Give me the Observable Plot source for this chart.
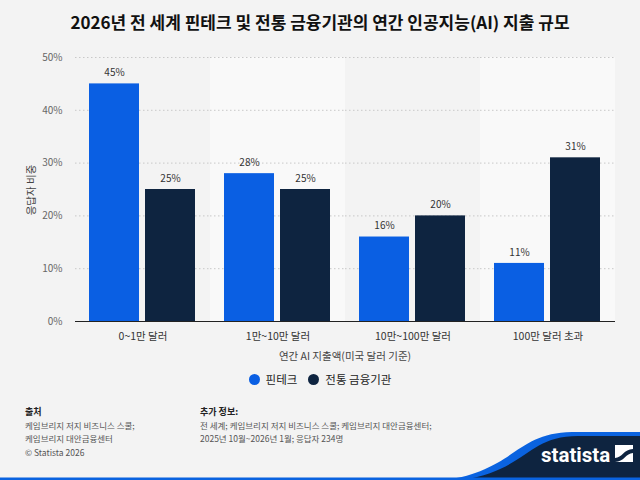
<!DOCTYPE html>
<html>
<head>
<meta charset="utf-8">
<script src="https://cdn.jsdelivr.net/npm/d3@7"></script>
<script src="https://cdn.jsdelivr.net/npm/@observablehq/plot@0.6"></script>
<style>
  html, body { margin: 0; padding: 0; }
  body { width: 640px; height: 480px; background: #f3f3f3; position: relative; overflow: hidden;
         font-family: "Noto Sans CJK KR", "Noto Sans", sans-serif; color: #222; }
  #title { position: absolute; top: 9px; left: 0; width: 640px; text-align: center; font-size: 17px; font-weight: 700; color: #111; }
  #chart { position: absolute; top: 45px; left: 0; }
  #ylabel { position: absolute; left: 30px; top: 190px; transform: translate(-50%, -50%) rotate(-90deg); font-size: 10.5px; color: #444; white-space: nowrap; }
  #xlabel { position: absolute; top: 348px; left: 75px; width: 540px; text-align: center; font-size: 10.5px; color: #444; }
  #legend { position: absolute; top: 371px; left: 0; width: 640px; display: flex; justify-content: center; gap: 11px; font-size: 11.5px; color: #222; }
  #legend span.item { display: flex; align-items: center; gap: 6px; }
  #legend span.dot { width: 11px; height: 11px; border-radius: 50%; display: inline-block; }
  .foot { position: absolute; top: 405px; font-size: 8.5px; color: #555; line-height: 13.5px; }
  .foot b { color: #222; font-weight: 700; font-size: 9px; }
  #logo { position: absolute; left: 0; top: 420px; }
</style>
</head>
<body>
<div id="title">2026년 전 세계 핀테크 및 전통 금융기관의 연간 인공지능(AI) 지출 규모</div>
<div id="chart"></div>
<div id="ylabel">응답자 비중</div>
<div id="xlabel">연간 AI 지출액(미국 달러 기준)</div>
<div id="legend"></div>
<div class="foot" style="left:25px"><b>출처</b><br>케임브리지 저지 비즈니스 스쿨;<br>케임브리지 대안금융센터<br>© Statista 2026</div>
<div class="foot" style="left:200px"><b>추가 정보:</b><br>전 세계; 케임브리지 저지 비즈니스 스쿨; 케임브리지 대안금융센터;<br>2025년 10월~2026년 1월; 응답자 234명</div>
<svg id="logo" width="640" height="60" viewBox="0 420 640 60">
  <path d="M445,480 C515,470 515,433 572,432 L640,432 L640,480 Z" fill="#0a63e0"/>
  <path d="M462,480 C527,470 527,436 578,436 L640,436 L640,480 Z" fill="#0e2440"/>
  <rect x="0" y="477.5" width="640" height="2.5" fill="#0a63e0"/>
  <text x="541" y="462" fill="#fff" font-family="Roboto, 'DejaVu Sans', sans-serif" font-weight="700" font-size="20.5">statista</text>
  <rect x="615" y="445" width="18" height="17" fill="#fff"/>
  <path d="M615,458 C622,458 624,449 633,449 L633,453 C626,453 624,462 615,462 Z" fill="#0e2440"/>
</svg>
<script>
const categories = ["0~1만 달러", "1만~10만 달러", "10만~100만 달러", "100만 달러 초과"];
const series = ["핀테크", "전통 금융기관"];
const fintech = [45, 28, 16, 11];
const traditional = [25, 25, 20, 31];
const yTicks = [0, 10, 20, 30, 40, 50];
const shadedCategories = ["1만~10만 달러", "100만 달러 초과"];
const colors = ["#0a5fe3", "#0e2440"];

const data = [];
categories.forEach((c, i) => {
  data.push({category: c, series: series[0], value: fintech[i]});
  data.push({category: c, series: series[1], value: traditional[i]});
});

const chart = Plot.plot({
  width: 640,
  height: 320,
  marginLeft: 75,
  marginRight: 25,
  marginTop: 12,
  marginBottom: 44,
  style: {background: "transparent", fontFamily: "'Noto Sans CJK KR', 'Noto Sans', sans-serif", fontSize: "10px"},
  fx: {domain: categories, padding: 0, label: null},
  x: {domain: series, paddingInner: 0.105, paddingOuter: 0.245, axis: null},
  y: {domain: [0, 50], axis: null},
  color: {domain: series, range: colors},
  marks: [
    Plot.barY(shadedCategories, {fx: d => d, y1: 0, y2: 50, fill: "#f9f9f9"}),
    Plot.gridY(yTicks, {stroke: "#c8c8c8", strokeOpacity: 1, strokeDasharray: "1.5,2.5"}),
    Plot.barY(data, {fx: "category", x: "series", y: "value", fill: "series"}),
    Plot.ruleY([0], {stroke: "#222", strokeWidth: 1.2}),
    Plot.text(data, {fx: "category", x: "series", y: "value", text: d => d.value + "%", dy: -11, fill: "#333", fontSize: 10}),
    Plot.axisY(yTicks, {tickFormat: d => d + "%", tickSize: 0, tickPadding: 13, fill: "#666", fontSize: 10, label: null}),
    Plot.axisFx({anchor: "bottom", tickSize: 0, tickPadding: 11, fill: "#333", fontSize: 10.5, label: null})
  ]
});
document.getElementById("chart").appendChild(chart);

const legend = document.getElementById("legend");
series.forEach((s, i) => {
  const item = document.createElement("span");
  item.className = "item";
  item.innerHTML = `<span class="dot" style="background:${colors[i]}"></span>${s}`;
  legend.appendChild(item);
});
</script>
</body>
</html>
